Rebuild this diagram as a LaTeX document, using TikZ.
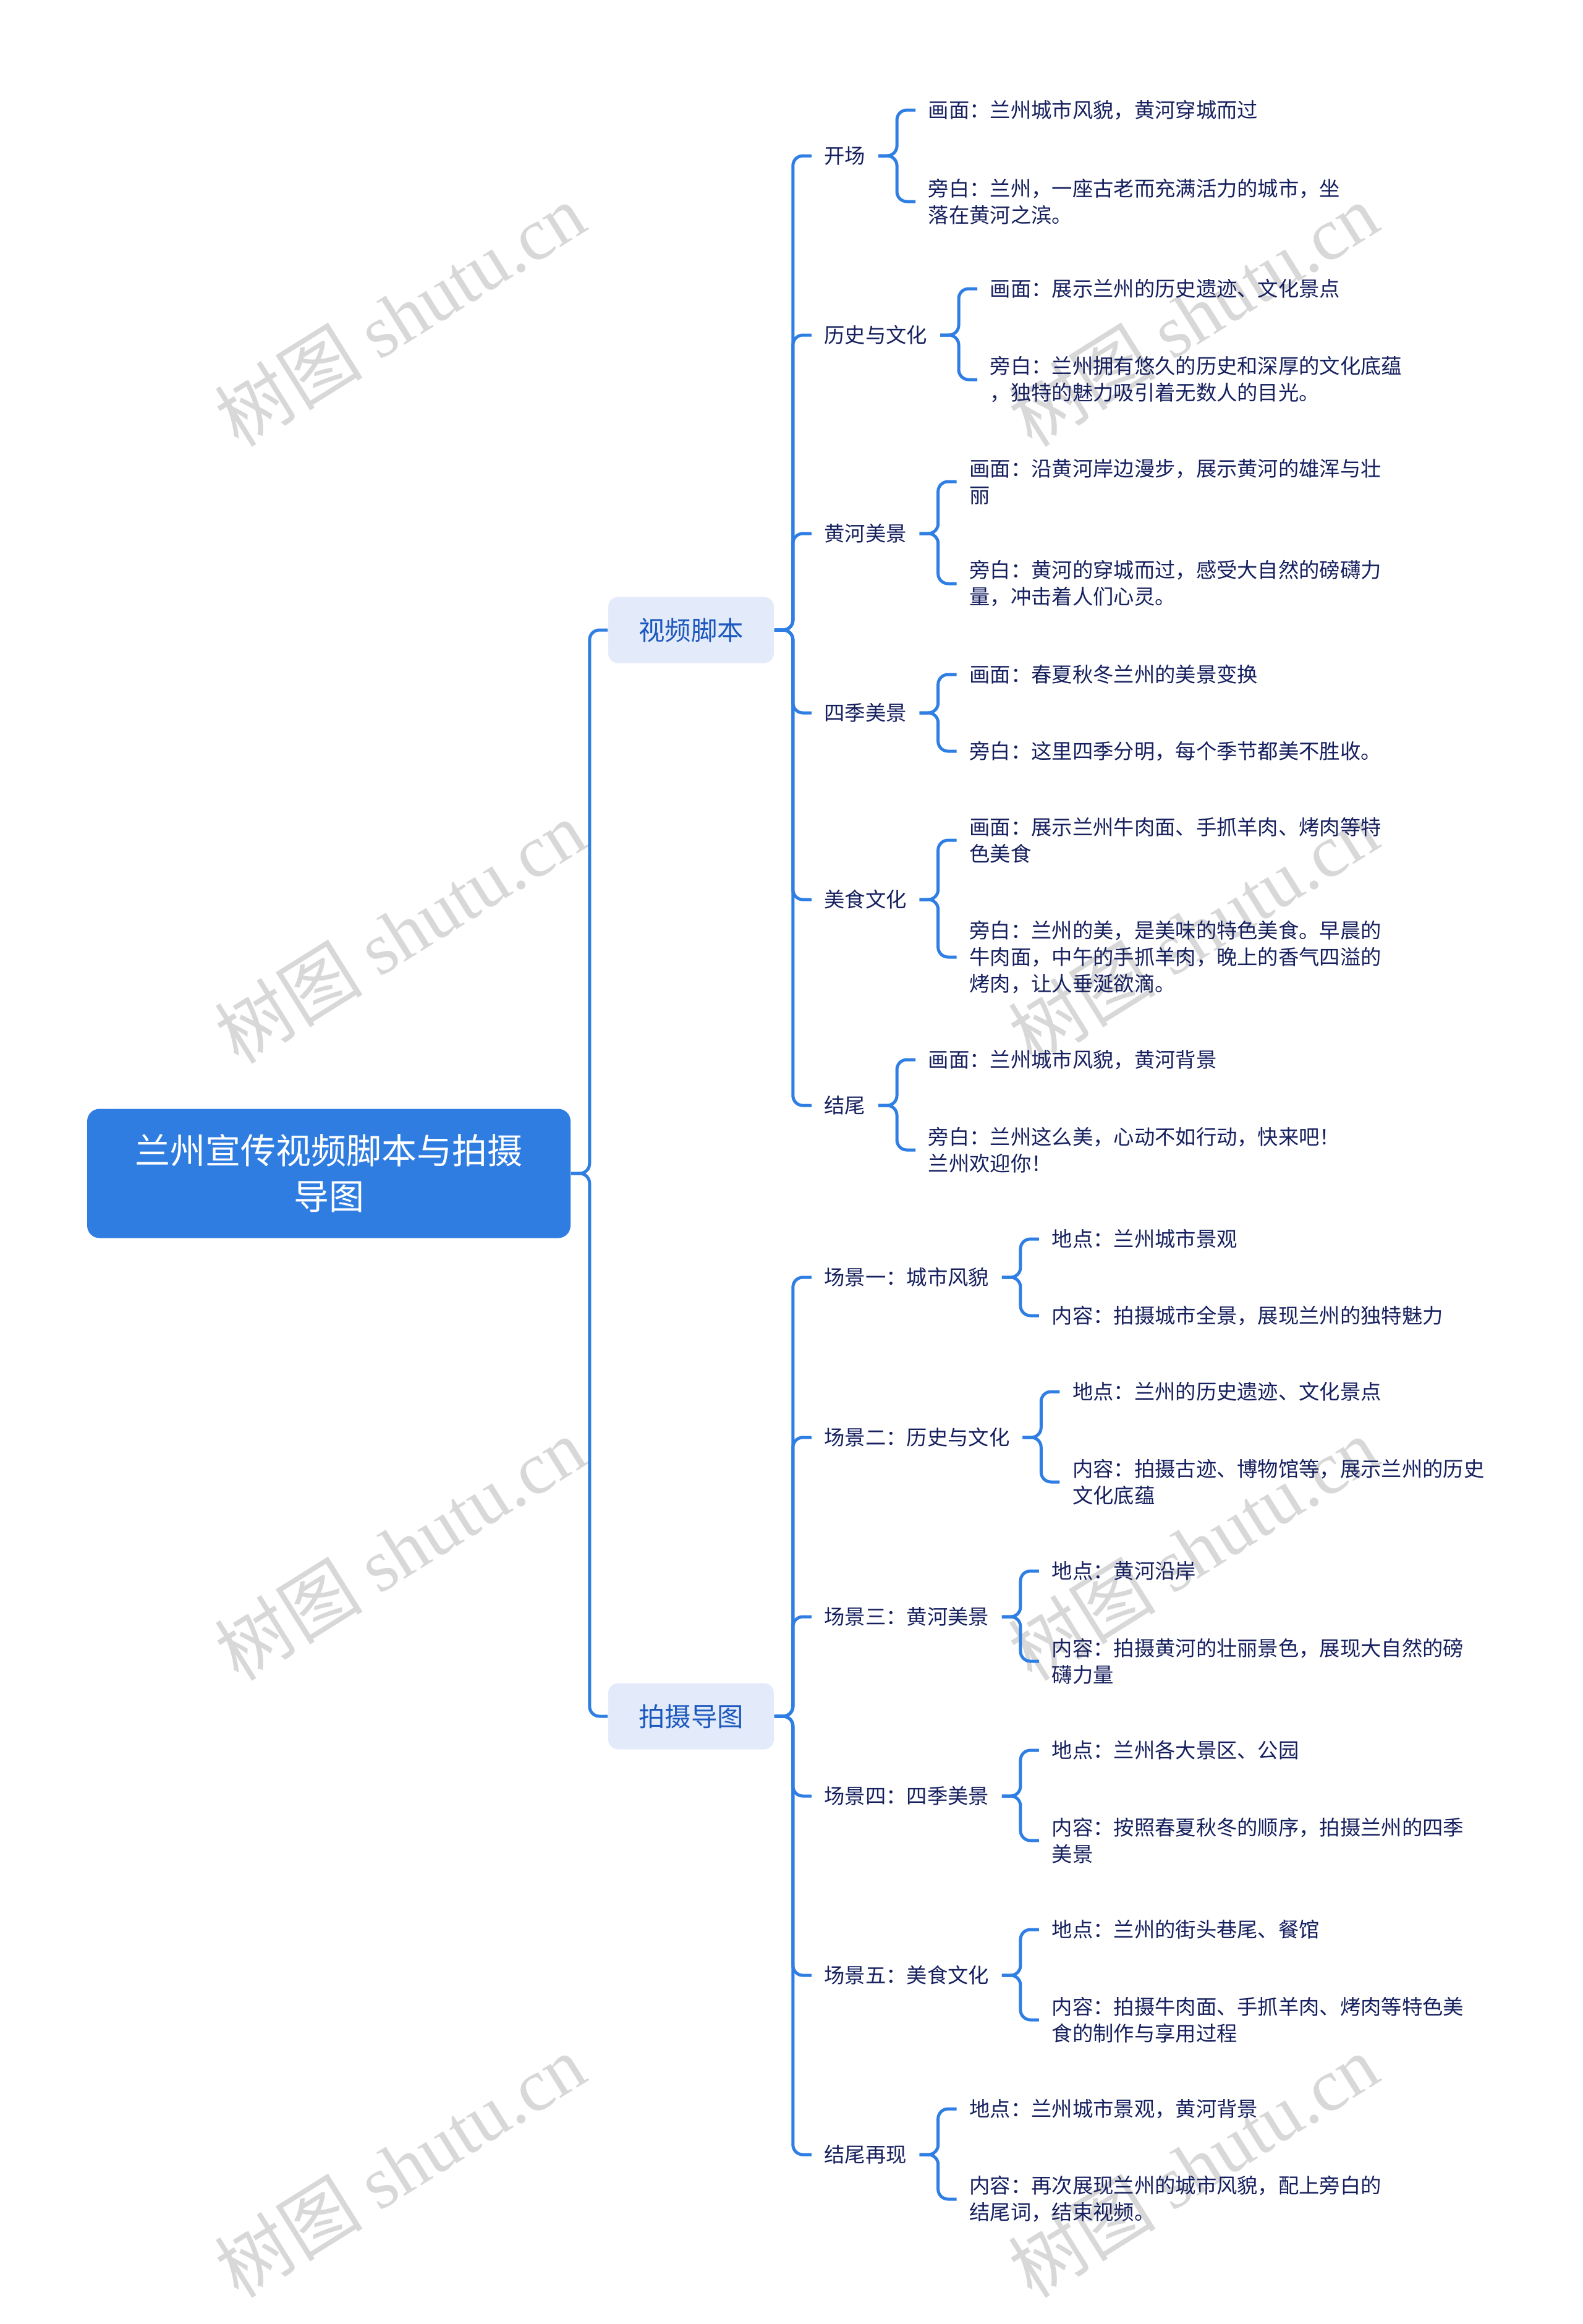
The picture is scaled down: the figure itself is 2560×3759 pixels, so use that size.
\documentclass[tikz,border=0pt]{standalone}
\usepackage{fontspec}
\setmainfont{Noto Sans CJK SC}
\newfontfamily\wmlatin{Liberation Serif}
\definecolor{lineblue}{HTML}{2F7EE3}
\definecolor{rootblue}{HTML}{2F7DE1}
\definecolor{lvlfill}{HTML}{E3EBFB}
\definecolor{lvltext}{HTML}{1C58BD}
\definecolor{navy}{HTML}{16205E}
\definecolor{wmgray}{HTML}{D8D8D8}
\tikzset{
  conn/.style={draw=lineblue, line width=1.25pt, rounded corners=4pt},
  rootnode/.style={rectangle, rounded corners=5pt, fill=rootblue, text=white,
    minimum width=195.5pt, minimum height=52.25pt, align=center, inner sep=0pt,
    font=\fontsize{14.25pt}{18.5pt}\selectfont},
  topic/.style={rectangle, rounded corners=4pt, fill=lvlfill, text=lvltext,
    minimum width=67pt, minimum height=26.75pt, inner sep=0pt,
    font=\fontsize{10.6pt}{13pt}\selectfont},
  sub/.style={text=navy, inner xsep=5pt, inner ysep=1pt, anchor=west, align=left,
    font=\fontsize{8.33pt}{10.75pt}\selectfont},
  wm/.style={rotate=32, text=wmgray, inner sep=0pt, font=\fontsize{30pt}{30pt}\selectfont}
}
\begin{document}
\begin{tikzpicture}[x=0.25pt, y=-0.25pt]
\fill[white] (0,0) rectangle (2560,3759);
\useasboundingbox (0,0) rectangle (2560,3759);

% watermarks
\node[wm] (w1) at (647,509) {树图 {\wmlatin shutu.cn}};
\node[wm] (w2) at (647,1507) {树图 {\wmlatin shutu.cn}};
\node[wm] (w3) at (647,2505) {树图 {\wmlatin shutu.cn}};
\node[wm] (w4) at (647,3503) {树图 {\wmlatin shutu.cn}};
\node[wm] (w5) at (1930,509) {树图 {\wmlatin shutu.cn}};
\node[wm] (w6) at (1930,1507) {树图 {\wmlatin shutu.cn}};
\node[wm] (w7) at (1930,2505) {树图 {\wmlatin shutu.cn}};
\node[wm] (w8) at (1930,3503) {树图 {\wmlatin shutu.cn}};

% root and main topics
\node[rootnode] (root) at (532,1898) {兰州宣传视频脚本与拍摄\\导图};
\node[topic] (v) at (1118,1019) {视频脚本};
\node[topic] (p) at (1118,2776) {拍摄导图};
\draw[conn] (root.east) -- ++(30,0) |- (v.west);
\draw[conn] (root.east) -- ++(30,0) |- (p.west);

% level 2 under 视频脚本
\coordinate (vJ) at ([xshift=15pt]v.east);
\node[sub] (a) at (vJ |- 0,252) {开场};
\node[sub] (b) at (vJ |- 0,542) {历史与文化};
\node[sub] (c) at (vJ |- 0,863) {黄河美景};
\node[sub] (d) at (vJ |- 0,1153) {四季美景};
\node[sub] (e) at (vJ |- 0,1455) {美食文化};
\node[sub] (f) at (vJ |- 0,1788) {结尾};
\foreach \n in {a,b,c,d,e,f} { \draw[conn] (v.east) -- ++(30,0) |- (\n.west); }

% level 2 under 拍摄导图
\coordinate (pJ) at ([xshift=15pt]p.east);
\node[sub] (g) at (pJ |- 0,2066) {场景一：城市风貌};
\node[sub] (h) at (pJ |- 0,2325) {场景二：历史与文化};
\node[sub] (i) at (pJ |- 0,2615) {场景三：黄河美景};
\node[sub] (j) at (pJ |- 0,2905) {场景四：四季美景};
\node[sub] (k) at (pJ |- 0,3195) {场景五：美食文化};
\node[sub] (l) at (pJ |- 0,3485) {结尾再现};
\foreach \n in {g,h,i,j,k,l} { \draw[conn] (p.east) -- ++(30,0) |- (\n.west); }

% level 3
\foreach \n in {a,b,c,d,e,f,g,h,i,j,k,l} { \coordinate (\n J) at ([xshift=15pt]\n.east); }

\node[sub] (a1) at (aJ |- 0,178) {画面：兰州城市风貌，黄河穿城而过};
\node[sub] (a2) at (aJ |- 0,326) {旁白：兰州，一座古老而充满活力的城市，坐\\落在黄河之滨。};
\node[sub] (b1) at (bJ |- 0,467) {画面：展示兰州的历史遗迹、文化景点};
\node[sub] (b2) at (bJ |- 0,614) {旁白：兰州拥有悠久的历史和深厚的文化底蕴\\，独特的魅力吸引着无数人的目光。};
\node[sub] (c1) at (cJ |- 0,779) {画面：沿黄河岸边漫步，展示黄河的雄浑与壮\\丽};
\node[sub] (c2) at (cJ |- 0,944) {旁白：黄河的穿城而过，感受大自然的磅礴力\\量，冲击着人们心灵。};
\node[sub] (d1) at (dJ |- 0,1091) {画面：春夏秋冬兰州的美景变换};
\node[sub] (d2) at (dJ |- 0,1215) {旁白：这里四季分明，每个季节都美不胜收。};
\node[sub] (e1) at (eJ |- 0,1359) {画面：展示兰州牛肉面、手抓羊肉、烤肉等特\\色美食};
\node[sub] (e2) at (eJ |- 0,1548) {旁白：兰州的美，是美味的特色美食。早晨的\\牛肉面，中午的手抓羊肉，晚上的香气四溢的\\烤肉，让人垂涎欲滴。};
\node[sub] (f1) at (fJ |- 0,1714) {画面：兰州城市风貌，黄河背景};
\node[sub] (f2) at (fJ |- 0,1860) {旁白：兰州这么美，心动不如行动，快来吧！\\兰州欢迎你！};

\node[sub] (g1) at (gJ |- 0,2004) {地点：兰州城市景观};
\node[sub] (g2) at (gJ |- 0,2128) {内容：拍摄城市全景，展现兰州的独特魅力};
\node[sub] (h1) at (hJ |- 0,2251) {地点：兰州的历史遗迹、文化景点};
\node[sub] (h2) at (hJ |- 0,2397) {内容：拍摄古迹、博物馆等，展示兰州的历史\\文化底蕴};
\node[sub] (i1) at (iJ |- 0,2541) {地点：黄河沿岸};
\node[sub] (i2) at (iJ |- 0,2687) {内容：拍摄黄河的壮丽景色，展现大自然的磅\\礴力量};
\node[sub] (j1) at (jJ |- 0,2831) {地点：兰州各大景区、公园};
\node[sub] (j2) at (jJ |- 0,2977) {内容：按照春夏秋冬的顺序，拍摄兰州的四季\\美景};
\node[sub] (k1) at (kJ |- 0,3121) {地点：兰州的街头巷尾、餐馆};
\node[sub] (k2) at (kJ |- 0,3267) {内容：拍摄牛肉面、手抓羊肉、烤肉等特色美\\食的制作与享用过程};
\node[sub] (l1) at (lJ |- 0,3411) {地点：兰州城市景观，黄河背景};
\node[sub] (l2) at (lJ |- 0,3557) {内容：再次展现兰州的城市风貌，配上旁白的\\结尾词，结束视频。};

\foreach \n in {a,b,c,d,e,f,g,h,i,j,k,l} {
  \draw[conn] (\n.east) -- ++(30,0) |- (\n1.west);
  \draw[conn] (\n.east) -- ++(30,0) |- (\n2.west);
}
\end{tikzpicture}
\end{document}
